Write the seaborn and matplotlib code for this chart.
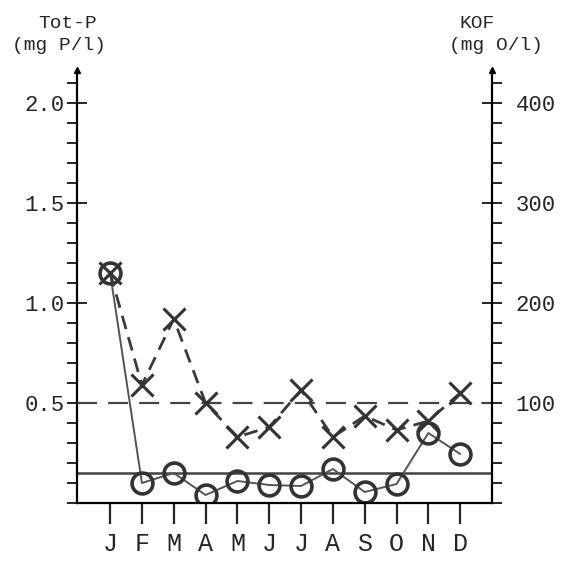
import numpy as np
import pandas as pd
import matplotlib
matplotlib.use("Agg")
import matplotlib.pyplot as plt
import seaborn as sns
from matplotlib.ticker import MultipleLocator

# Data
months = ['J', 'F', 'M', 'A', 'M', 'J', 'J', 'A', 'S', 'O', 'N', 'D']
tot_p = [1.15, 0.10, 0.15, 0.04, 0.11, 0.09, 0.085, 0.17, 0.055, 0.095, 0.35, 0.245]
kof = [230, 118, 184, 100, 66, 76, 113, 66, 87, 73, 82, 110]
tot_p_ref = 0.15   # solid reference line
kof_ref = 100      # dashed reference line

df = pd.DataFrame({'idx': range(len(months)), 'month': months,
                   'tot_p': tot_p, 'kof': kof})

sns.set_style("ticks")
plt.rcParams['font.family'] = ['Liberation Mono', 'DejaVu Sans Mono']

fig = plt.figure(figsize=(5.73, 5.62), dpi=100)
W, H = 573, 562
ax = fig.add_axes([77 / W, (H - 503) / H, (492 - 77) / W, (503 - 70) / H])
ax2 = ax.twinx()

ymax = 2.165
ax.set_ylim(0, ymax)
ax2.set_ylim(0, ymax * 200)
ax.set_xlim(-1.04, 12.0)

# reference lines
ax.axhline(tot_p_ref, color='#444444', lw=1.8, zorder=1)
ax2.axhline(kof_ref, color='#444444', lw=1.6, ls=(0, (9, 5)), zorder=1)

# KOF series (right axis)
sns.lineplot(data=df, x='idx', y='kof', ax=ax2, color='#3a3a3a', lw=2.0,
             linestyle=(0, (5, 3)), marker='x', markersize=16,
             markeredgewidth=2.2, markeredgecolor='#333333')
# Tot-P series (left axis)
sns.lineplot(data=df, x='idx', y='tot_p', ax=ax, color='#555555', lw=1.4,
             marker='o', markersize=15, markerfacecolor='none',
             markeredgewidth=2.6, markeredgecolor='#333333')

for a in (ax, ax2):
    a.set_xlabel('')
    a.set_ylabel('')
    a.spines['top'].set_visible(False)
    for s in a.spines.values():
        s.set_linewidth(1.6)
        s.set_color('black')
ax.spines['right'].set_visible(False)
ax2.spines['left'].set_visible(False)
ax2.spines['bottom'].set_visible(False)

ax.set_xticks(df['idx'])
ax.set_xticklabels(months, fontsize=18)
ax.tick_params(axis='x', direction='out', length=15, width=1.6, pad=6)

ax.yaxis.set_minor_locator(MultipleLocator(0.1))
ax.set_yticks([0.5, 1.0, 1.5, 2.0])
ax.set_yticklabels(['0.5', '1.0', '1.5', '2.0'], fontsize=16)
ax.tick_params(axis='y', which='major', direction='inout', length=14, width=1.4, pad=2)
ax.tick_params(axis='y', which='minor', direction='out', length=7, width=1.4)

ax2.yaxis.set_minor_locator(MultipleLocator(20))
ax2.set_yticks([100, 200, 300, 400])
ax2.set_yticklabels(['100', '200', '300', '400'], fontsize=16)
ax2.tick_params(axis='y', which='major', direction='inout', length=14, width=1.4, pad=10)
ax2.tick_params(axis='y', which='minor', direction='out', length=7, width=1.4)

# small arrow heads at the top of the vertical axes
ax.plot([0, 1], [1, 1], transform=ax.transAxes, ls='none', marker='^',
        markersize=4, color='black', clip_on=False)

fig.text(68 / W, 1 - 23 / H, 'Tot-P', ha='center', va='center', fontsize=14)
fig.text(59 / W, 1 - 45 / H, '(mg P/l)', ha='center', va='center', fontsize=14)
fig.text(477 / W, 1 - 23 / H, 'KOF', ha='center', va='center', fontsize=14)
fig.text(496 / W, 1 - 45 / H, '(mg O/l)', ha='center', va='center', fontsize=14)

fig.savefig('out.png', dpi=100, facecolor='white')
